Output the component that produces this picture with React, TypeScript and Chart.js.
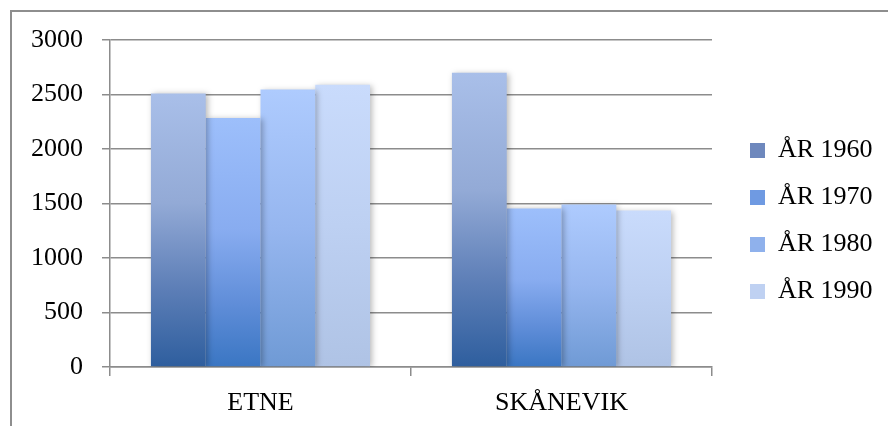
import React, { useEffect, useRef } from "react";
import { Chart, registerables } from "chart.js";

Chart.register(...registerables);

const categories = ["ETNE", "SKÅNEVIK"];
const seriesLabels = ["ÅR 1960", "ÅR 1970", "ÅR 1980", "ÅR 1990"];
const year1960 = [2510, 2700];
const year1970 = [2285, 1455];
const year1980 = [2545, 1490];
const year1990 = [2590, 1435];
const yMin = 0;
const yMax = 3000;
const yStep = 500;

const gradientStops: [number, string][][] = [
  [[0, "#A9BFE9"], [0.4, "#93AAD6"], [0.7, "#5F80B8"], [1, "#2E5E9E"]],
  [[0, "#9DBFFB"], [0.45, "#88ACF0"], [0.75, "#5F8DD8"], [1, "#3A76C3"]],
  [[0, "#AECBFE"], [0.5, "#96B6EF"], [1, "#6F9AD5"]],
  [[0, "#C9DBFC"], [0.5, "#BDD0F2"], [1, "#AFC3E5"]],
];
const legendFill = ["#6E88BD", "#6F9AE2", "#8FB1EC", "#BFD1F2"];

const FONT = "'Liberation Serif', 'Times New Roman', serif";
const GRID = "#8C8C8C";

export default function App() {
  const ref = useRef<HTMLCanvasElement | null>(null);

  useEffect(() => {
    if (!ref.current) return;
    const seriesData = [year1960, year1970, year1980, year1990];

    const makeBg = (i: number) => (c: any) => {
      const chart = c.chart;
      if (c.type !== "data" || !chart.chartArea || !chart.scales.y) return legendFill[i];
      const y = chart.scales.y;
      const top = y.getPixelForValue(c.raw);
      const bottom = y.getPixelForValue(0);
      if (!isFinite(top) || !isFinite(bottom) || top === bottom) return legendFill[i];
      const g = chart.ctx.createLinearGradient(0, top, 0, bottom);
      for (const [o, col] of gradientStops[i]) g.addColorStop(o, col);
      return g;
    };

    const shadowPlugin = {
      id: "barShadow",
      beforeDatasetsDraw(chart: any) {
        const ctx = chart.ctx;
        ctx.save();
        ctx.shadowColor = "rgba(0,0,0,0.28)";
        ctx.shadowBlur = 6;
        ctx.shadowOffsetX = 2;
        ctx.shadowOffsetY = 1;
      },
      afterDatasetsDraw(chart: any) {
        chart.ctx.restore();
      },
    };

    const legendPlacePlugin = {
      id: "legendPlace",
      afterInit(chart: any) {
        const lg = chart.legend;
        if (!lg) return;
        const orig = lg.fit.bind(lg);
        lg.fit = function () {
          orig();
          this.width = 159;
        };
      },
      afterLayout(chart: any) {
        const lg = chart.legend;
        if (!lg) return;
        lg.bottom = 402;
        lg.height = lg.bottom - lg.top;
      },
    };

    const chart = new Chart(ref.current, {
      type: "bar",
      data: {
        labels: categories,
        datasets: seriesLabels.map((label, i) => ({
          label,
          data: seriesData[i],
          backgroundColor: makeBg(i),
          borderWidth: 0,
          categoryPercentage: 0.728,
          barPercentage: 1,
        })),
      },
      options: {
        animation: false,
        responsive: false,
        maintainAspectRatio: false,
        devicePixelRatio: 1,
        layout: { padding: { top: 40, left: 0, right: 0, bottom: 0 } },
        plugins: {
          tooltip: { enabled: false },
          legend: {
            display: true,
            position: "right",
            align: "center",
            labels: {
              boxWidth: 15,
              boxHeight: 15,
              padding: 21,
              color: "#000",
              font: { family: FONT, size: 26 },
              generateLabels: (chart: any) =>
                chart.data.datasets.map((ds: any, i: number) => ({
                  text: ds.label,
                  fillStyle: legendFill[i],
                  strokeStyle: legendFill[i],
                  lineWidth: 0,
                  hidden: false,
                  datasetIndex: i,
                  fontColor: "#000",
                })),
            },
          },
        },
        scales: {
          x: {
            position: "bottom",
            offset: true,
            grid: {
              display: true,
              drawOnChartArea: false,
              offset: true,
              tickLength: 9,
              color: GRID,
              lineWidth: 1.5,
            },
            border: { display: true, color: GRID, width: 1.5 },
            ticks: {
              color: "#000",
              padding: 12,
              font: { family: FONT, size: 26 },
            },
            afterFit: (s: any) => {
              s.height = 59;
            },
          },
          y: {
            position: "left",
            min: yMin,
            max: yMax,
            grid: { color: GRID, lineWidth: 1.5, tickLength: 8 },
            border: { display: true, color: GRID, width: 1.5 },
            ticks: {
              stepSize: yStep,
              color: "#000",
              padding: 19,
              font: { family: FONT, size: 26 },
              callback: (v: any) => String(v),
            },
            afterFit: (s: any) => {
              s.width = 110;
            },
          },
          gap: {
            type: "linear",
            position: "right",
            display: true,
            grid: { display: false },
            border: { display: false },
            ticks: { display: false },
            afterFit: (s: any) => {
              s.width = 17;
            },
          },
        },
      } as any,
      plugins: [shadowPlugin, legendPlacePlugin],
    });
    return () => chart.destroy();
  }, []);

  return (
    <div style={{ position: "fixed", left: 0, top: 0, width: 888, height: 426, background: "#fff", overflow: "hidden" }}>
      <div
        style={{
          position: "absolute",
          left: 10,
          top: 10,
          width: 900,
          height: 440,
          borderTop: "2px solid #8E8E8E",
          borderLeft: "2px solid #8E8E8E",
        }}
      />
      <canvas ref={ref} width={888} height={426} style={{ position: "absolute", left: 0, top: 0, width: 888, height: 426 }} />
    </div>
  );
}
